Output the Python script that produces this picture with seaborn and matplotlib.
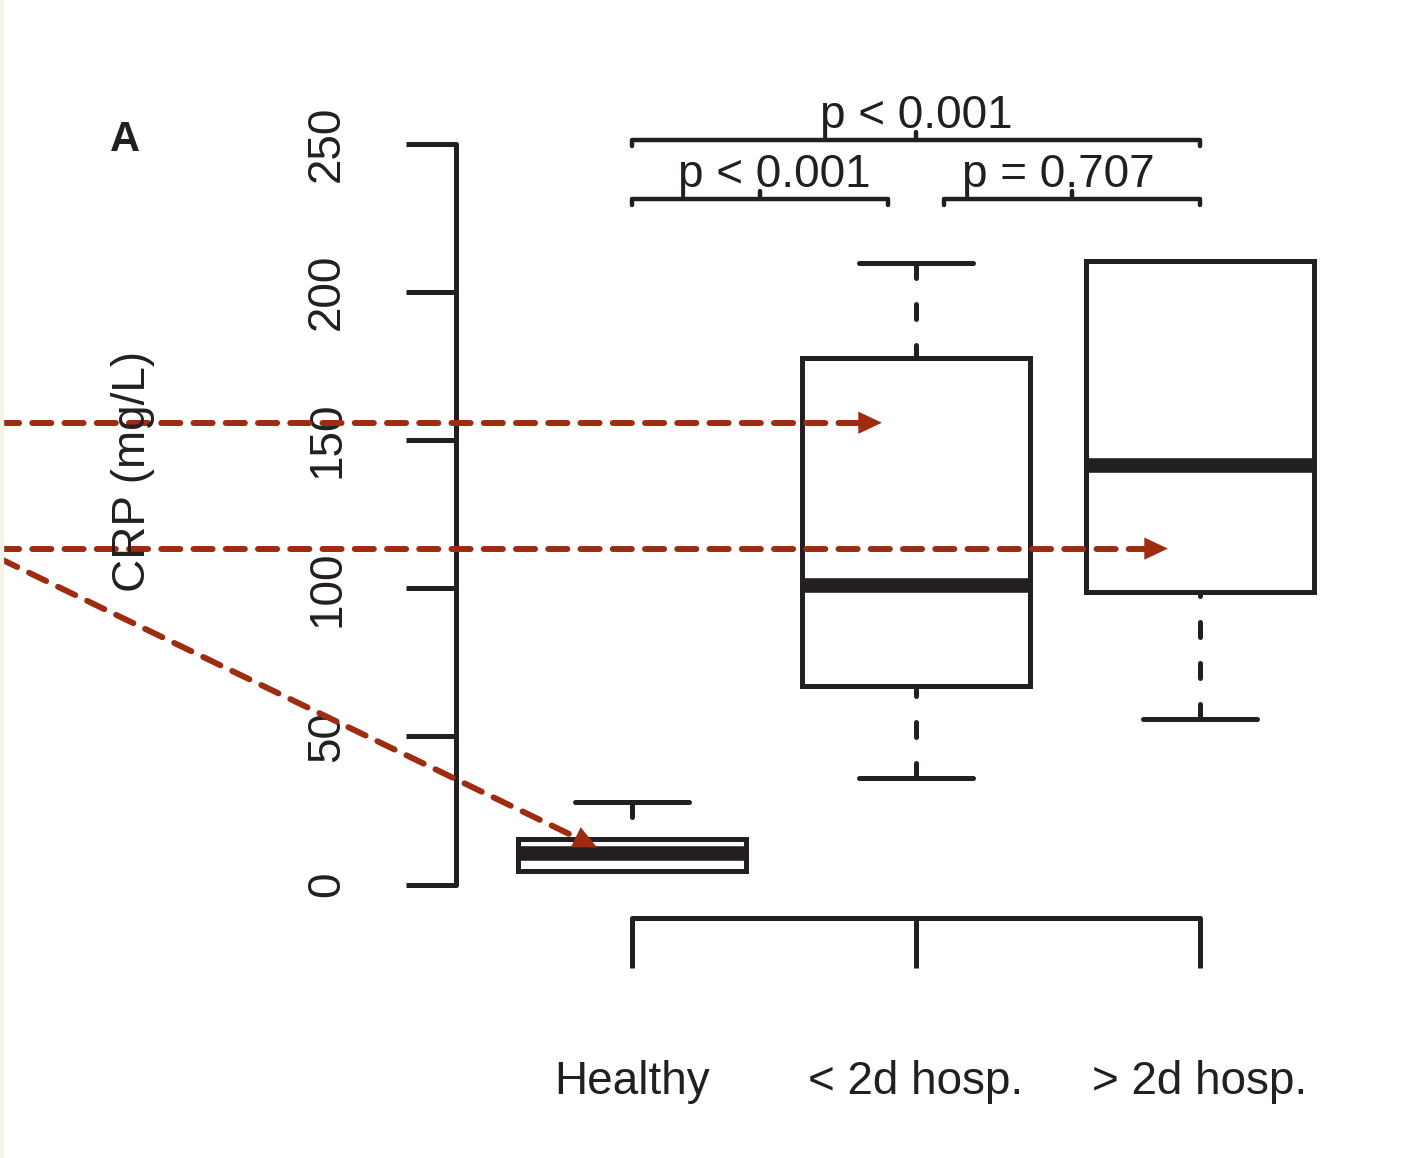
import numpy as np
import pandas as pd
import seaborn as sns
import matplotlib.pyplot as plt
from matplotlib.patches import Rectangle

# Box summary (CRP, mg/L)
groups = ['Healthy', '< 2d hosp.', '> 2d hosp.']
whisker_low = [4.7, 35.8, 56.0]
q1 = [4.7, 66.9, 98.9]
median = [10.8, 101.1, 141.7]
q3 = [15.3, 177.8, 210.6]
whisker_high = [27.7, 209.9, 210.6]

y_ticks = [0, 50, 100, 150, 200, 250]

# significance brackets
sig_left = [0, 0, 1.1]
sig_right = [2, 0.9, 2]
sig_height = [251.3, 231.4, 231.4]
sig_text_x = [1.0, 0.5, 1.5]
sig_text_y = [255.5, 235.5, 235.5]
sig_text = ['p < 0.001', 'p < 0.001', 'p = 0.707']

# red dashed arrows (start at the left figure edge)
arrow_tip_x = [0.88, 1.887, -0.123]
arrow_tip_y = [155.9, 113.4, 12.5]
arrow_start_y = [155.9, 113.4, 110.0]

BLACK = '#231f20'
RED = '#9e2c10'

# five-number rows per group -> seaborn recomputes the same quartiles
rows = []
for g, a, b, c, d, e in zip(groups, whisker_low, q1, median, q3, whisker_high):
    for v in (a, b, c, d, e):
        rows.append({'group': g, 'crp': v})
df = pd.DataFrame(rows)

sns.set_style('ticks')
plt.rcParams['font.family'] = ['Liberation Sans', 'DejaVu Sans']

W, H = 1421, 1158
fig = plt.figure(figsize=(W / 100, H / 100), dpi=100)
fig.patch.set_facecolor('white')
fig.patches.append(Rectangle((0, 0), 3 / W, 1, transform=fig.transFigure,
                             color='#f6f3e8', zorder=0))

ax_left, ax_right, ax_top, ax_bottom = 456, 1380, 60, 918
ax = fig.add_axes([ax_left / W, 1 - ax_bottom / H,
                   (ax_right - ax_left) / W, (ax_bottom - ax_top) / H])

sns.boxplot(data=df, x='group', y='crp', order=groups, ax=ax, width=0.8,
            color='white', linecolor=BLACK, linewidth=3.6, showfliers=False,
            whis=(0, 100),
            medianprops=dict(linewidth=10.5, solid_capstyle='butt', color=BLACK),
            whiskerprops=dict(linestyle=(0, (3, 5.2)), dash_capstyle='round'),
            capprops=dict(solid_capstyle='round'),
            boxprops=dict(joinstyle='miter'))

# R draws whiskers from the cap towards the box, so the dashes start at the cap
for line in ax.lines:
    if line.get_linestyle() == '--':
        x, y = line.get_data()
        line.set_data(np.asarray(x)[::-1], np.asarray(y)[::-1])

px_per_unit = 2.962
zero_px = 884.5
ax.set_xlim((ax_left - 632) / 284, (ax_right - 632) / 284)
ax.set_ylim((zero_px - ax_bottom) / px_per_unit, (zero_px - ax_top) / px_per_unit)
ax.set_facecolor('none')

for s in ['top', 'right']:
    ax.spines[s].set_visible(False)
for s in ['left', 'bottom']:
    ax.spines[s].set_linewidth(3.6)
    ax.spines[s].set_color(BLACK)
    ax.spines[s].set_capstyle('round')
ax.spines['left'].set_bounds(0, 250)
ax.spines['bottom'].set_bounds(0, 2)

ax.set_yticks(y_ticks)
ax.set_yticklabels([str(t) for t in y_ticks])
ax.set_xticks(range(len(groups)))
ax.set_xticklabels(groups)
ax.tick_params(axis='both', length=36, width=3.6, color=BLACK, labelsize=33,
               labelcolor=BLACK)
ax.tick_params(axis='y', pad=41, labelrotation=90)
ax.tick_params(axis='x', pad=66)
for lab in ax.get_yticklabels():
    lab.set_va('center')
ax.set_xlabel('')
ax.set_ylabel('')

fig.text(133 / W, 1 - 471 / H, 'CRP (mg/L)', rotation=90, ha='center',
         va='center', fontsize=33, color=BLACK)
fig.text(125 / W, 1 - 140 / H, 'A', fontweight='bold', fontsize=30,
         ha='center', va='center', color=BLACK)

# significance brackets
for l, r, h, tx, ty, t in zip(sig_left, sig_right, sig_height,
                              sig_text_x, sig_text_y, sig_text):
    ax.plot([l, l, r, r], [h - 2.0, h, h, h - 2.0], color=BLACK, lw=3.2,
            solid_capstyle='round', solid_joinstyle='round', clip_on=False)
    m = (l + r) / 2
    ax.plot([m, m], [h, h + 2.7], color=BLACK, lw=3.2,
            solid_capstyle='round', clip_on=False)
    ax.text(tx, ty, t, ha='center', va='baseline', fontsize=33, color=BLACK)

# red dashed arrows
to_px = ax.transData
to_data = ax.transData.inverted()
for tx, ty, sy in zip(arrow_tip_x, arrow_tip_y, arrow_start_y):
    tip = np.array(to_px.transform((tx, ty)))
    start = np.array([0.0, to_px.transform((0, sy))[1]])
    d = tip - start
    d = d / np.hypot(*d)
    end = tip - d * 20
    base = tip - d * 24
    s_d = to_data.transform(start)
    e_d = to_data.transform(end)
    b_d = to_data.transform(base)
    ax.plot([s_d[0], e_d[0]], [s_d[1], e_d[1]], color=RED, lw=4.3,
            linestyle=(0, (3.2, 2.2)), dash_capstyle='round', clip_on=False,
            zorder=6)
    ax.annotate('', xy=(tx, ty), xytext=(b_d[0], b_d[1]),
                arrowprops=dict(arrowstyle='-|>,head_length=17,head_width=8',
                                mutation_scale=1, color=RED, lw=0,
                                shrinkA=0, shrinkB=0),
                annotation_clip=False, zorder=7)

fig.savefig('out.png', dpi=100, facecolor='white')
